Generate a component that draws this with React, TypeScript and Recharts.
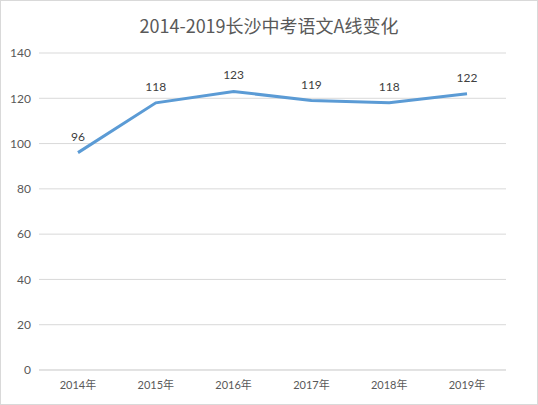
import React from "react";
import {
  LineChart,
  Line,
  XAxis,
  YAxis,
  CartesianGrid,
  LabelList,
} from "recharts";

// A-line scores per year
const years = ["2014年", "2015年", "2016年", "2017年", "2018年", "2019年"];
const scores = [96, 118, 123, 119, 118, 122];
const yTicks = [0, 20, 40, 60, 80, 100, 120, 140];

const chartData = years.map((year, i) => ({ year, score: scores[i] }));

const axisFont = "Lato, 'Noto Sans CJK SC', sans-serif";

export default function App() {
  return (
    <div
      style={{
        position: "relative",
        width: 538,
        height: 405,
        boxSizing: "border-box",
        border: "1px solid #d9d9d9",
        background: "#fff",
      }}
    >
      <style>{`body { margin: 0; }`}</style>
      <div
        style={{
          position: "absolute",
          top: 12,
          left: 0,
          width: "100%",
          textAlign: "center",
          fontFamily: "'Noto Sans CJK SC', sans-serif",
          fontSize: 18,
          color: "#595959",
          lineHeight: "24px",
        }}
      >
        2014-2019长沙中考语文A线变化
      </div>
      <LineChart
        width={536}
        height={403}
        data={chartData}
        margin={{ top: 52, right: 31, left: 0, bottom: 4 }}
        style={{ position: "absolute", top: 0, left: 0 }}
      >
        <CartesianGrid vertical={false} stroke="#d9d9d9" />
        <XAxis
          dataKey="year"
          height={30}
          padding={{ left: 39, right: 39 }}
          axisLine={{ stroke: "#d9d9d9" }}
          tickLine={false}
          tickMargin={5}
          tick={{ fill: "#595959", fontSize: 11, fontFamily: axisFont }}
        />
        <YAxis
          width={38}
          domain={[0, 140]}
          ticks={yTicks}
          axisLine={false}
          tickLine={false}
          tick={{ fill: "#595959", fontSize: 12, fontFamily: axisFont }}
        />
        <Line
          type="linear"
          dataKey="score"
          stroke="#5B9BD5"
          strokeWidth={3}
          dot={false}
          isAnimationActive={false}
        >
          <LabelList
            dataKey="score"
            position="top"
            offset={12}
            fill="#404040"
            fontSize={12}
            fontFamily={axisFont}
          />
        </Line>
      </LineChart>
    </div>
  );
}
